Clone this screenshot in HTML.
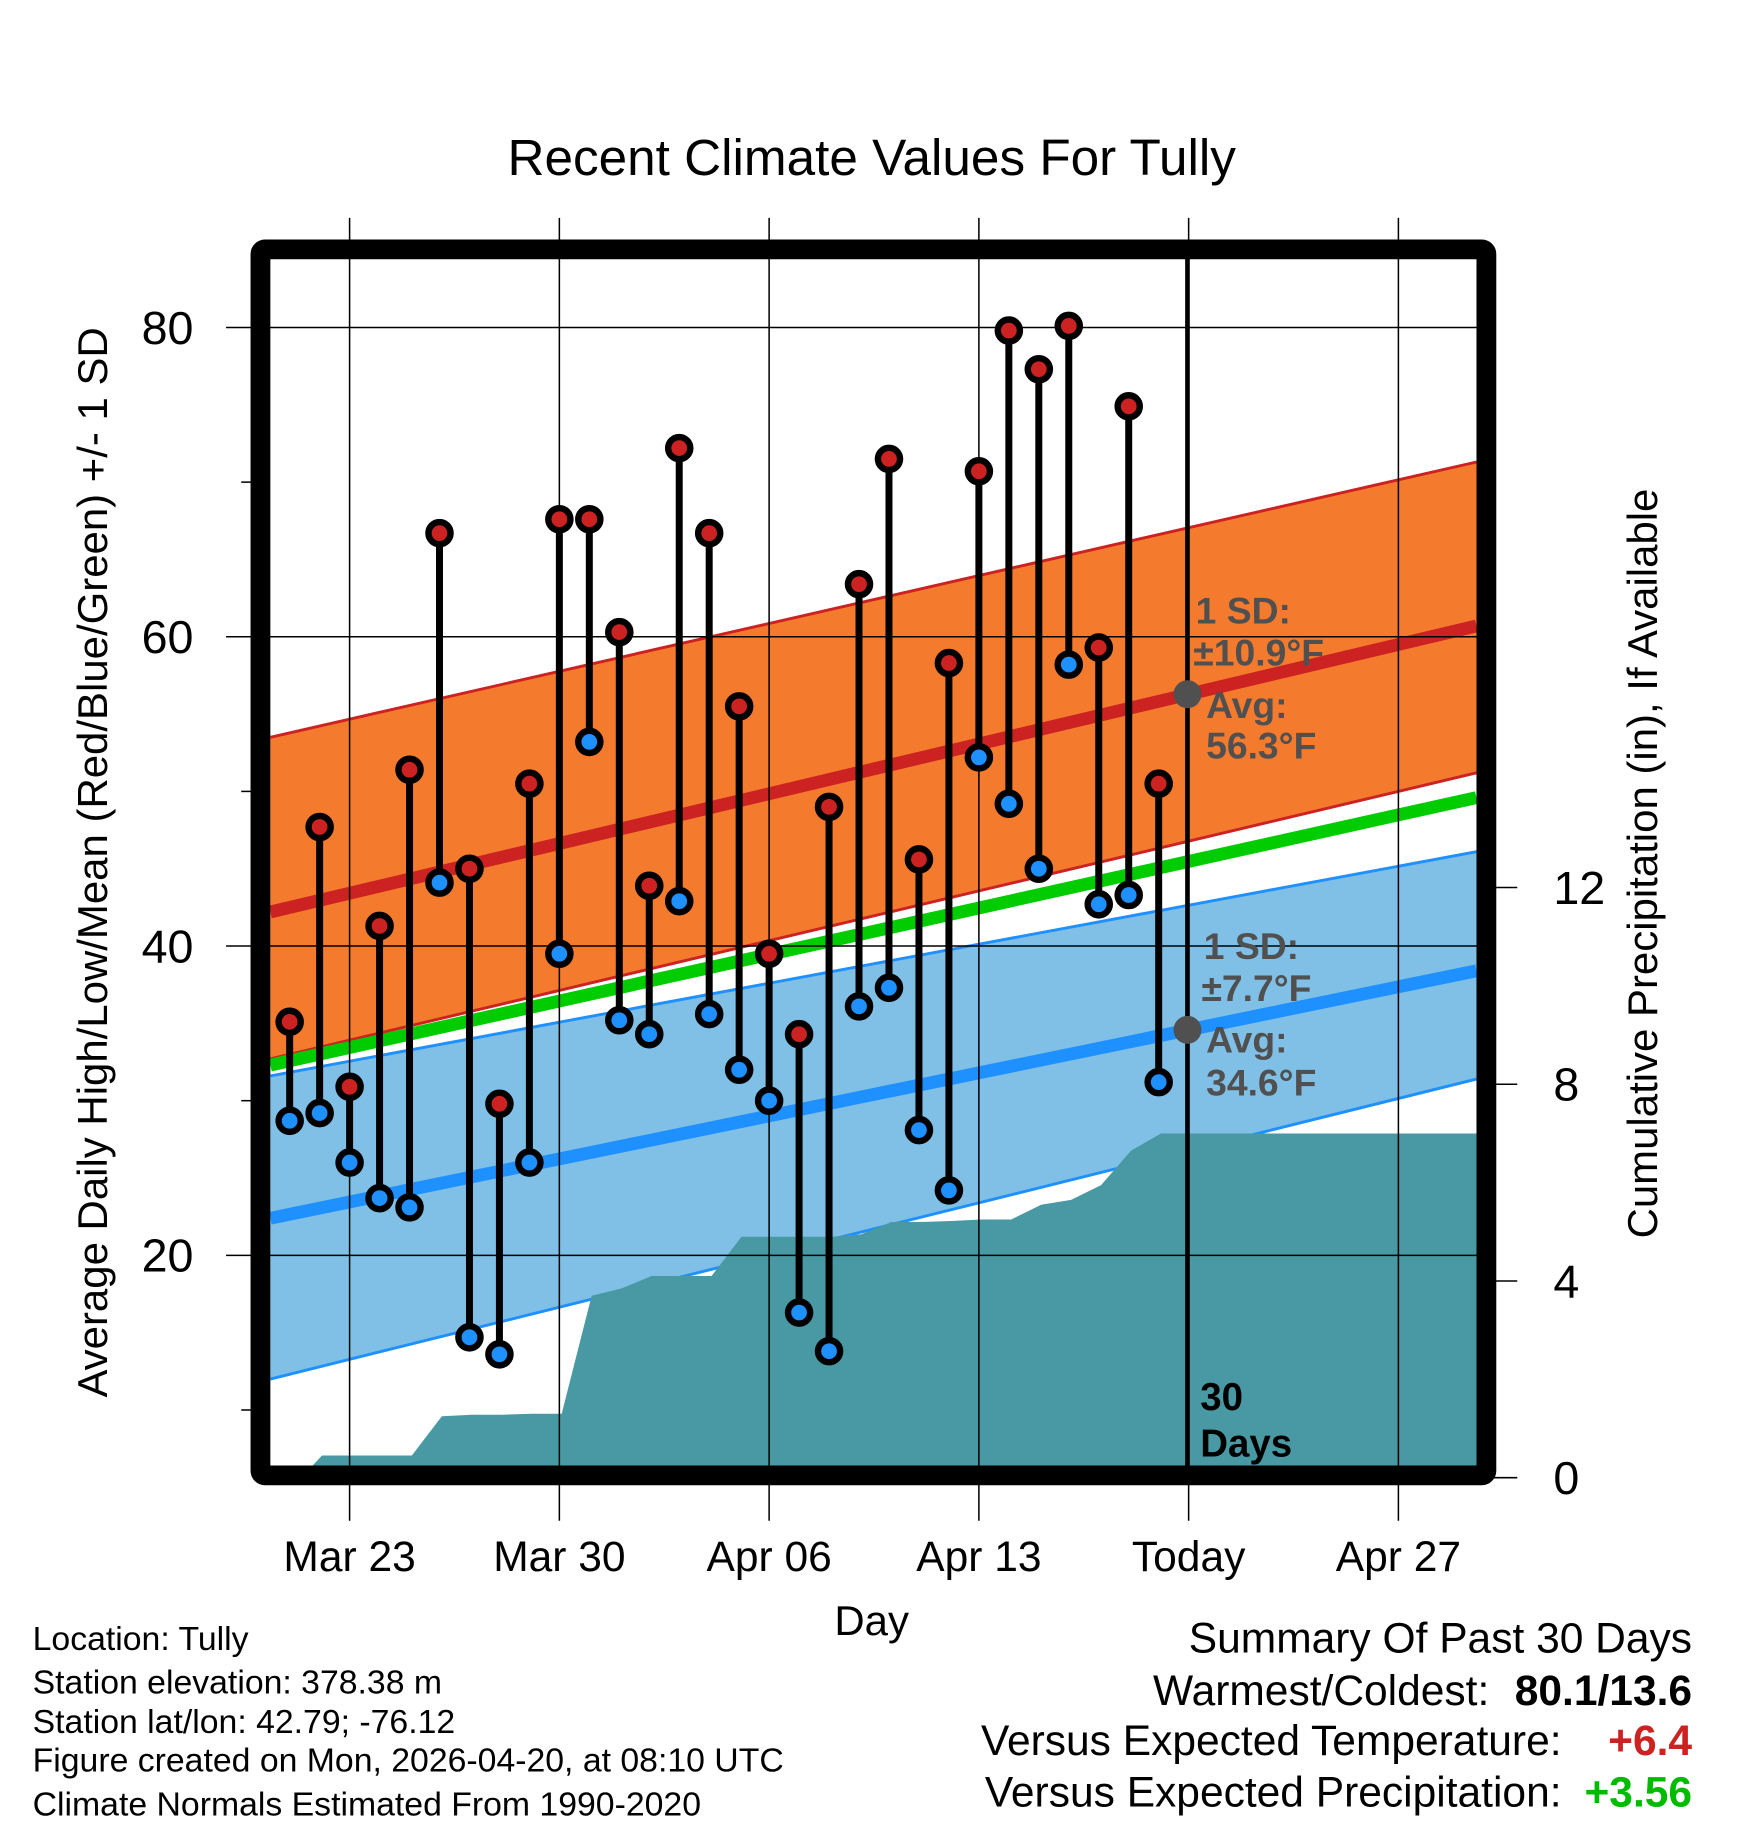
<!DOCTYPE html>
<html><head><meta charset="utf-8"><style>
html,body{margin:0;padding:0;background:#fff}
svg{display:block}
text{font-family:"Liberation Sans",Arial,sans-serif}
</style></head><body>
<svg id="chart" width="1748" height="1828" viewBox="0 0 1500 1568.6" preserveAspectRatio="none" xmlns="http://www.w3.org/2000/svg">
<g id="plot"></g>
<text x="748" y="150" font-size="44" text-anchor="middle">Recent Climate Values For Tully</text>
<text transform="translate(92,740) rotate(-90)" font-size="36" text-anchor="middle">Average Daily High/Low/Mean (Red/Blue/Green) +/- 1 SD</text>
<text transform="translate(1422,741) rotate(-90)" font-size="36" text-anchor="middle">Cumulative Precipitation (in), If Available</text>
<text x="748" y="1403" font-size="36" text-anchor="middle">Day</text>
<g font-size="29">
<text x="28" y="1416">Location: Tully</text>
<text x="28" y="1453">Station elevation: 378.38 m</text>
<text x="28" y="1487">Station lat/lon: 42.79; -76.12</text>
<text x="28" y="1520">Figure created on Mon, 2026-04-20, at 08:10 UTC</text>
<text x="28" y="1558">Climate Normals Estimated From 1990-2020</text>
</g>
<g font-size="36.5">
<text x="1452" y="1418" text-anchor="end">Summary Of Past 30 Days</text>
<text x="1278" y="1463" text-anchor="end">Warmest/Coldest:</text>
<text x="1452" y="1463" text-anchor="end" font-weight="bold">80.1/13.6</text>
<text x="1340" y="1506" text-anchor="end">Versus Expected Temperature:</text>
<text x="1452" y="1506" text-anchor="end" font-weight="bold" fill="#cc2222">+6.4</text>
<text x="1340" y="1550" text-anchor="end">Versus Expected Precipitation:</text>
<text x="1452" y="1550" text-anchor="end" font-weight="bold" fill="#00bb00">+3.56</text>
</g>
</svg>
<script>
// day offsets relative to Mar 23
const days = [-2,-1,0,1,2,3,4,5,6,7,8,9,10,11,12,13,14,15,16,17,18,19,20,21,22,23,24,25,26,27];
const highs = [35.1,47.7,30.9,41.3,51.4,66.7,45.0,29.8,50.5,67.6,67.6,60.3,43.9,72.2,66.7,55.5,39.5,34.3,49.0,63.4,71.5,45.6,58.3,70.7,79.8,77.3,80.1,59.3,74.9,50.5];
const lows = [28.7,29.2,26.0,23.7,23.1,44.1,14.7,13.6,26.0,39.5,53.2,35.2,34.3,42.9,35.6,32.0,30.0,16.3,13.8,36.1,37.3,28.1,24.2,52.2,49.2,45.0,58.2,42.7,43.3,31.2];
const precip = [0,0.45,0.45,0.45,0.45,1.25,1.28,1.28,1.3,1.3,3.7,3.85,4.1,4.1,4.1,4.9,4.9,4.9,4.9,4.95,5.2,5.2,5.22,5.25,5.25,5.55,5.65,5.95,6.65,7.0];
const tickDays = [0,7,14,21,28,35];
const tickLabels = ["Mar 23","Mar 30","Apr 06","Apr 13","Today","Apr 27"];
const yTicks = [20,40,60,80];
const yMinor = [10,30,50,70];
const pTicks = [0,4,8,12];
// normals at left / right plot edges
const highMean = [42.2,60.7], highUp = [53.5,71.3], highLo = [32.7,51.2];
const lowMean = [22.4,38.4], lowUp = [31.6,46.1], lowLo = [12.0,31.4];
const meanLine = [32.3,49.6];
const todayDay = 28;

const NS = "http://www.w3.org/2000/svg";
const L = 232, R = 1267, T = 222, B = 1258;
const x = d => 300 + d * 180 / 7;
const y = v => 281 + (80 - v) * 13.27;
const yp = p => 1268 - p * 42.2;
const plot = document.getElementById('plot');
function mk(tag, attrs, parent) {
  const e = document.createElementNS(NS, tag);
  for (const k in attrs) e.setAttribute(k, attrs[k]);
  (parent || plot).appendChild(e);
  return e;
}
const dL = (L - 300) * 7 / 180, dR = (R - 300) * 7 / 180;
function band(up, lo, fill, edge, name) {
  const p = mk('polygon', {points: `${L},${y(up[0])} ${R},${y(up[1])} ${R},${y(lo[1])} ${L},${y(lo[0])}`, fill: fill});
  
  
  [up, lo].forEach(a => {
    const l = mk('line', {x1: L, y1: y(a[0]), x2: R, y2: y(a[1]), stroke: edge, 'stroke-width': 2.5});
    
    
  });
}
band(highUp, highLo, '#f47a2e', '#cc2222', 'high-sd-band');
band(lowUp, lowLo, '#80c0e6', '#1e90ff', 'low-sd-band');
function meanL(a, c, name) {
  const l = mk('line', {x1: L, y1: y(a[0]), x2: R, y2: y(a[1]), stroke: c, 'stroke-width': 11});
  
  
}
meanL(meanLine, '#00cc00', 'mean-normal-line');
meanL(highMean, '#cc2222', 'high-normal-line');
meanL(lowMean, '#1e90ff', 'low-normal-line');

// precipitation area
let pts = `${x(days[0]) + 10},${yp(0)} `;
days.forEach((d, i) => { pts += `${x(d) + (i ? 2 : 10)},${yp(precip[i])} `; });
pts += `${R},${yp(precip[precip.length - 1])} ${R},${B} ${x(days[0]) + 10},${B}`;
const area = mk('polygon', {points: pts, fill: '#4899a3'});



// gridlines
tickDays.forEach((d, i) => {
  const g = mk('line', {x1: x(d), y1: 187, x2: x(d), y2: 1305, stroke: '#000', 'stroke-width': 1.3});
  
  
  const t = mk('text', {x: x(d), y: 1348, 'font-size': 36.5, 'text-anchor': 'middle'});
  t.textContent = tickLabels[i];
  
  
});
yTicks.forEach(v => {
  const g = mk('line', {x1: 194, y1: y(v), x2: R, y2: y(v), stroke: '#000', 'stroke-width': 1.3});
  
  
  const t = mk('text', {x: 166, y: y(v) + 14, 'font-size': 40, 'text-anchor': 'end'});
  t.textContent = v;
  
  
});
yMinor.forEach(v => {
  const g = mk('line', {x1: 207, y1: y(v), x2: 220, y2: y(v), stroke: '#000', 'stroke-width': 1.3});
  
  
});
pTicks.forEach(p => {
  const g = mk('line', {x1: 1280, y1: yp(p), x2: 1302, y2: yp(p), stroke: '#000', 'stroke-width': 1.3});
  
  
  const t = mk('text', {x: 1333, y: yp(p) + 14, 'font-size': 40});
  t.textContent = p;
  
  
});

// today line
const tl = mk('line', {x1: x(todayDay) - 1, y1: T, x2: x(todayDay) - 1, y2: B, stroke: '#000', 'stroke-width': 4});



// stems and markers
days.forEach((d, i) => {
  const s = mk('line', {x1: x(d), y1: y(highs[i]), x2: x(d), y2: y(lows[i]), stroke: '#000', 'stroke-width': 6});
  
  
});
days.forEach((d, i) => {
  const h = mk('circle', {cx: x(d), cy: y(highs[i]), r: 9.5, fill: '#cc2222', stroke: '#000', 'stroke-width': 5.5});
  
  
  const l = mk('circle', {cx: x(d), cy: y(lows[i]), r: 9.5, fill: '#1e90ff', stroke: '#000', 'stroke-width': 5.5});
  
  
});

// annotations
const tf = (d) => (d - dL) / (dR - dL);
const hT = highMean[0] + tf(todayDay) * (highMean[1] - highMean[0]);
const lT = lowMean[0] + tf(todayDay) * (lowMean[1] - lowMean[0]);
[[hT, 'today-high-avg-dot'], [lT, 'today-low-avg-dot']].forEach(a => {
  const c = mk('circle', {cx: x(todayDay) - 1, cy: y(a[0]), r: 12, fill: '#505050'});
  
  
});
function ann(tx, ty, s, name) {
  const t = mk('text', {x: tx, y: ty, 'font-size': 32, 'font-weight': 'bold', fill: '#505050'});
  t.textContent = s;
  
  
}
ann(1026, 535, '1 SD:', 'high-sd-label');
ann(1024, 571, '\u00b110.9\u00b0F', 'high-sd-value');
ann(1035, 616, 'Avg:', 'high-avg-label');
ann(1035, 651, '56.3\u00b0F', 'high-avg-value');
ann(1033, 823, '1 SD:', 'low-sd-label');
ann(1031, 859, '\u00b17.7\u00b0F', 'low-sd-value');
ann(1035, 903, 'Avg:', 'low-avg-label');
ann(1035, 940, '34.6\u00b0F', 'low-avg-value');
const t30 = mk('text', {x: 1030, y: 1210, 'font-size': 33, 'font-weight': 'bold'});
t30.textContent = '30';


const tdy = mk('text', {x: 1030, y: 1250, 'font-size': 33, 'font-weight': 'bold'});
tdy.textContent = 'Days';



// frame
const fr = mk('rect', {x: 223.5, y: 214, width: 1052, height: 1052, rx: 4, fill: 'none', stroke: '#000', 'stroke-width': 17});


</script>
</body></html>
